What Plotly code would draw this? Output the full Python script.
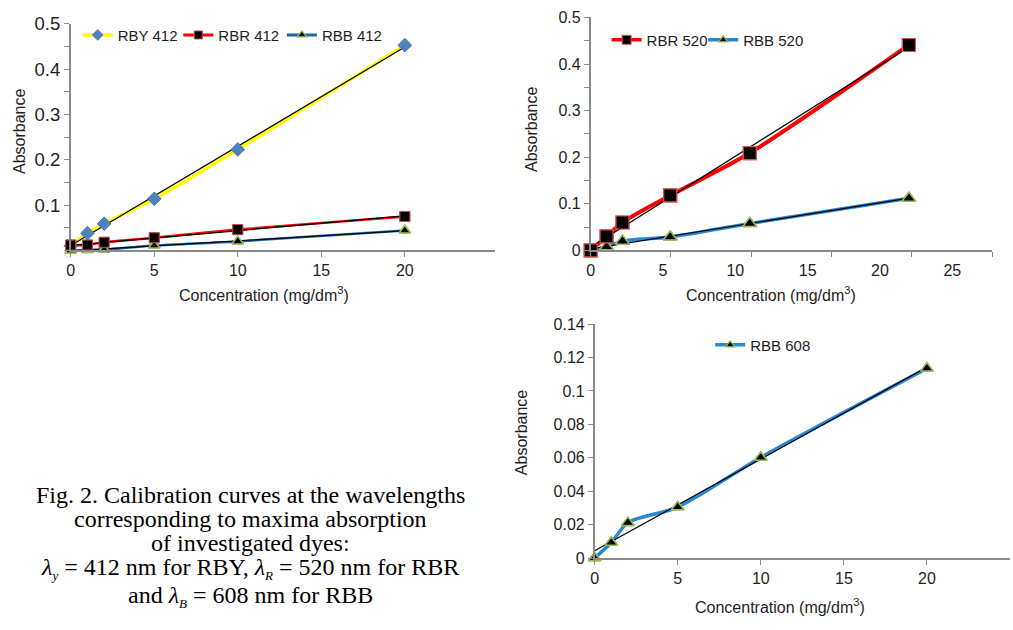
import numpy as np
import plotly.graph_objects as go

# ---------------- data ----------------
conc_412 = [0, 1, 2, 5, 10, 20]
rby_412 = [0.010, 0.038, 0.059, 0.114, 0.223, 0.453]
rbr_412 = [0.012, 0.012, 0.018, 0.028, 0.046, 0.075]
rbb_412 = [0.000, 0.001, 0.002, 0.011, 0.020, 0.044]

conc_520 = [0, 1.1, 2.2, 5.5, 11, 22]
rbr_520 = [0.000, 0.030, 0.060, 0.118, 0.209, 0.441]
rbb_520 = [0.000, 0.008, 0.020, 0.029, 0.058, 0.112]

conc_608 = [0, 1, 2, 5, 10, 20]
rbb_608 = [0.000, 0.0093, 0.0212, 0.0305, 0.0602, 0.1135]

x_ticks = [0, 5, 10, 15, 20, 25]
y_ticks_top = [0, 0.1, 0.2, 0.3, 0.4, 0.5]
y_ticks_bottom = [0, 0.02, 0.04, 0.06, 0.08, 0.1, 0.12, 0.14]

SUB = "<sub><span style='font-size:13px'><i>%s</i></span></sub>"
caption_lines = [
    "Fig. 2. Calibration curves at the wavelengths",
    "corresponding to maxima absorption",
    "of investigated dyes:",
    "<i>λ</i>" + SUB % "y" + " = 412 nm for RBY, <i>λ</i>" + SUB % "R" + " = 520 nm for RBR",
    "and <i>λ</i>" + SUB % "B" + " = 608 nm for RBB",
]

# ---------------- styling ----------------
W, H = 1013, 630
FONT = "Liberation Sans, Arial, sans-serif"
AX = "#8a8a8a"
TXT = "#1e1e1e"

fig = go.Figure()

def series(x, y, xa, ya, lcolor, lwidth, symbol, msize, mcolor, ocolor, owidth):
    fig.add_trace(go.Scatter(
        x=x, y=y, mode="lines+markers", xaxis=xa, yaxis=ya, showlegend=False, cliponaxis=False,
        line=dict(color=lcolor, width=lwidth, shape="spline", smoothing=0.8),
        marker=dict(symbol=symbol, size=msize, color=mcolor, line=dict(color=ocolor, width=owidth)),
    ))

def key(name, leg, lcolor, lwidth, symbol, msize, mcolor, ocolor, owidth):
    fig.add_trace(go.Scatter(
        x=[None], y=[None], name=name, mode="lines+markers", legend=leg, showlegend=True,
        line=dict(color=lcolor, width=lwidth),
        marker=dict(symbol=symbol, size=msize, color=mcolor, line=dict(color=ocolor, width=owidth)),
    ))

def trend(x, y, xa, ya):
    k, b = np.polyfit(np.array(x, float), np.array(y, float), 1)
    xs = np.array([min(x), max(x)], float)
    fig.add_trace(go.Scatter(x=xs, y=k * xs + b, mode="lines", xaxis=xa, yaxis=ya,
                             showlegend=False, hoverinfo="skip", cliponaxis=False,
                             line=dict(color="black", width=1.2)))

def marks(x, y, xa, ya, symbol, msize, mcolor, ocolor, owidth):
    fig.add_trace(go.Scatter(x=x, y=y, mode="markers", xaxis=xa, yaxis=ya, showlegend=False,
                             cliponaxis=False,
                             marker=dict(symbol=symbol, size=msize, color=mcolor,
                                         line=dict(color=ocolor, width=owidth))))

# ---- top-left: 412 nm
series(conc_412, rby_412, "x", "y", "#FFFF00", 3.5, "diamond", 11, "#4F81BD", "#4F81BD", 0)
series(conc_412, rbr_412, "x", "y", "#FF0000", 2.5, "square", 10, "black", "#C0504D", 1)
series(conc_412, rbb_412, "x", "y", "#1F64AE", 2.5, "triangle-up", 10, "black", "#9BBB59", 1.5)
trend(conc_412, rby_412, "x", "y")
trend(conc_412, rbr_412, "x", "y")
trend(conc_412, rbb_412, "x", "y")
marks(conc_412, rby_412, "x", "y", "diamond", 11, "#4F81BD", "#4F81BD", 0)
marks(conc_412, rbb_412, "x", "y", "triangle-up", 10, "black", "#9BBB59", 1.5)
marks(conc_412, rbr_412, "x", "y", "square", 10, "black", "#C0504D", 1)

# ---- top-right: 520 nm
series(conc_520, rbr_520, "x2", "y2", "#FF0000", 4, "square", 13, "black", "#D9534F", 1.2)
series(conc_520, rbb_520, "x2", "y2", "#2A84D6", 3.5, "triangle-up", 12, "black", "#9BBB59", 1.5)
trend(conc_520, rbr_520, "x2", "y2")
trend(conc_520, rbb_520, "x2", "y2")
marks(conc_520, rbb_520, "x2", "y2", "triangle-up", 12, "black", "#9BBB59", 1.5)
marks(conc_520, rbr_520, "x2", "y2", "square", 13, "black", "#D9534F", 1.2)

# ---- bottom-right: 608 nm
series(conc_608, rbb_608, "x3", "y3", "#2A88D8", 3.5, "triangle-up", 11, "black", "#9BBB59", 1.5)
trend(conc_608, rbb_608, "x3", "y3")
marks(conc_608, rbb_608, "x3", "y3", "triangle-up", 11, "black", "#9BBB59", 1.5)

# ---- legend keys (one legend box per entry so each can sit where the reference has it)
key("RBY 412", "legend", "#FFFF00", 3.5, "diamond", 9, "#4F81BD", "#4F81BD", 0)
key("RBR 412", "legend2", "#FF0000", 3, "square", 8, "black", "#C0504D", 1)
key("RBB 412", "legend3", "#1F64AE", 3, "triangle-up", 8, "black", "#9BBB59", 1.2)
key("RBR 520", "legend4", "#FF0000", 3.5, "square", 9, "black", "#D9534F", 1)
key("RBB 520", "legend5", "#2A84D6", 3.5, "triangle-up", 8, "black", "#9BBB59", 1.2)
key("RBB 608", "legend6", "#2A88D8", 3.5, "triangle-up", 8, "black", "#9BBB59", 1.2)

def xaxis(domain, rng, anchor, tickvals, ticktext, tickcolor=AX, minor=None):
    d = dict(domain=domain, range=rng, anchor=anchor, showline=True, linecolor=AX, linewidth=1.5,
             showgrid=False, zeroline=False, ticks="outside", ticklen=5, tickcolor=tickcolor,
             tickwidth=1.2, tickmode="array", tickvals=tickvals, ticktext=ticktext,
             tickfont=dict(family=FONT, size=16, color=TXT))
    if minor:
        d["minor"] = minor
    return d

def yaxis(domain, rng, anchor, tickvals, ticktext, size=16, minor_dtick=None):
    d = dict(domain=domain, range=rng, anchor=anchor, showline=True, linecolor=AX, linewidth=1.5,
             showgrid=False, zeroline=False, ticks="outside", ticklen=5, tickcolor=AX, tickwidth=1.2,
             tickmode="array", tickvals=tickvals, ticktext=ticktext,
             tickfont=dict(family=FONT, size=size, color=TXT))
    if minor_dtick:
        d["minor"] = dict(tickmode="linear", tick0=0, dtick=minor_dtick, ticks="outside",
                          ticklen=5, tickcolor=AX, tickwidth=1.2, showgrid=False)
    return d

def fmt(v):
    return ("%.2f" % v).rstrip("0").rstrip(".")

tl_yt = y_ticks_top[1:]
tl_xt = x_ticks[:5]

def legbox(xpx, ypx):
    return dict(orientation="h", x=xpx / W, y=1 - ypx / H, xanchor="left", yanchor="middle",
                font=dict(family=FONT, size=15, color=TXT), bgcolor="rgba(0,0,0,0)",
                itemwidth=30, borderwidth=0)

fig.update_layout(
    width=W, height=H, margin=dict(l=0, r=0, t=0, b=0),
    paper_bgcolor="white", plot_bgcolor="white",
    font=dict(family=FONT, size=16, color=TXT),
    hovermode=False,
    xaxis=xaxis([67 / W, 493 / W], [0, 25.4], "y", tl_xt, [str(v) for v in tl_xt]),
    yaxis=yaxis([1 - 247.3 / H, 1 - 13.3 / H], [0, 0.5], "x", tl_yt, [fmt(v) for v in tl_yt],
                size=18.5, minor_dtick=0.05),
    xaxis2=xaxis([589 / W, 992 / W], [0, 27.75], "y2", x_ticks, [str(v) for v in x_ticks],
                 tickcolor="rgba(0,0,0,0)",
                 minor=dict(tickmode="linear", tick0=0, dtick=5.55, ticks="outside", ticklen=5,
                            tickcolor=AX, tickwidth=1.2, showgrid=False)),
    yaxis2=yaxis([1 - 247.3 / H, 1 - 6.7 / H], [0, 0.5], "x2", y_ticks_top,
                 [fmt(v) for v in y_ticks_top], minor_dtick=0.05),
    xaxis3=xaxis([593 / W, 1010 / W], [0, 25], "y3", x_ticks[:5], [str(v) for v in x_ticks[:5]]),
    yaxis3=yaxis([1 - 565 / H, 1 - 323.3 / H], [0, 0.14], "x3", y_ticks_bottom,
                 [fmt(v) for v in y_ticks_bottom]),
    legend=legbox(74, 25),
    legend2=legbox(175, 25),
    legend3=legbox(279, 25),
    legend4=legbox(605, 30),
    legend5=legbox(702, 30),
    legend6=legbox(709, 345),
)

def label(text, xpx, ypx, angle=0, size=16):
    fig.add_annotation(text=text, x=xpx / W, y=1 - ypx / H, xref="paper", yref="paper",
                       showarrow=False, textangle=angle, xanchor="center", yanchor="middle",
                       font=dict(family=FONT, size=size, color=TXT))

xt = "Concentration (mg/dm<sup>3</sup>)"
label(xt, 261, 292)
label("Absorbance", 15, 124, -90)
label(xt, 770, 292)
label("Absorbance", 529, 122, -90)
label(xt, 779, 614)
label("Absorbance", 519, 435, -90)

# caption: anchored by the top of each line box
cap_top = [485, 510, 535, 560, 588.5]
for line, ypx in zip(caption_lines, cap_top):
    fig.add_annotation(text=line, x=247 / W, y=1 - ypx / H, xref="paper", yref="paper",
                       showarrow=False, xanchor="center", yanchor="top", align="center",
                       borderpad=0,
                       font=dict(family="Liberation Serif, Times New Roman, serif", size=24,
                                 color="black"))

fig.write_html("out.html")
